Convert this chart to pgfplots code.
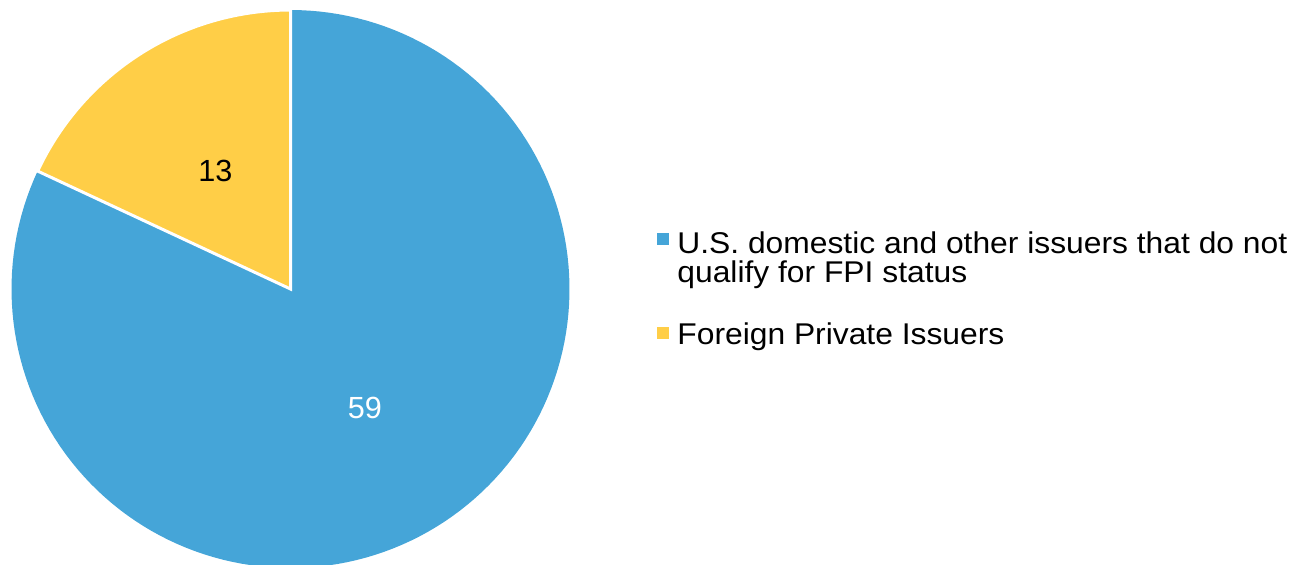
\documentclass[border=0pt]{standalone}
\usepackage{pgfplots}
\pgfplotsset{compat=1.18}
\usepackage{fontspec}
\setmainfont{Liberation Sans}
\newfontfamily\legfont[FakeStretch=1.06]{Liberation Sans}
\definecolor{pieblue}{HTML}{45A5D8}
\definecolor{pieyellow}{HTML}{FFCE47}
\begin{document}
\begin{tikzpicture}
\def\vUS{59}
\def\vFPI{13}
\pgfmathsetmacro\aFPI{90+360*\vFPI/(\vUS+\vFPI)}
\begin{axis}[scale only axis, width=648pt, height=282pt,
  xmin=0, xmax=1296, ymin=0, ymax=564, hide axis, clip=true]
\addplot[draw=none, fill=pieblue, samples=150, domain=\aFPI:450, variable=\t]
  ({290.5+279*cos(\t)},{275+279*sin(\t)}) -- (axis cs:290.5,275) -- cycle;
\addplot[draw=white, line width=1.5pt, line join=miter, fill=pieyellow, samples=50, domain=90:\aFPI, variable=\t]
  ({290.5+279*cos(\t)},{275+279*sin(\t)}) -- (axis cs:290.5,275) -- cycle;
\node[font=\fontsize{15.3}{17}\selectfont, black] at (axis cs:215.5,392.6) {\vFPI};
\node[font=\fontsize{15.3}{17}\selectfont, white] at (axis cs:365,156) {\vUS};
% legend
\fill[pieblue] (axis cs:657,319) rectangle (axis cs:669,331);
\fill[pieyellow] (axis cs:657,225.5) rectangle (axis cs:669,237.5);
\node[font=\legfont\fontsize{15}{17}\selectfont, anchor=base west, inner sep=0pt] at (axis cs:677,310.5) {U.S. domestic and other issuers that do not};
\node[font=\legfont\fontsize{15}{17}\selectfont, anchor=base west, inner sep=0pt] at (axis cs:677,282) {qualify for FPI status};
\node[font=\legfont\fontsize{15}{17}\selectfont, anchor=base west, inner sep=0pt] at (axis cs:677,220) {Foreign Private Issuers};
\end{axis}
\pgfresetboundingbox
\path (current axis.south west) rectangle (current axis.north east);
\end{tikzpicture}
\end{document}
